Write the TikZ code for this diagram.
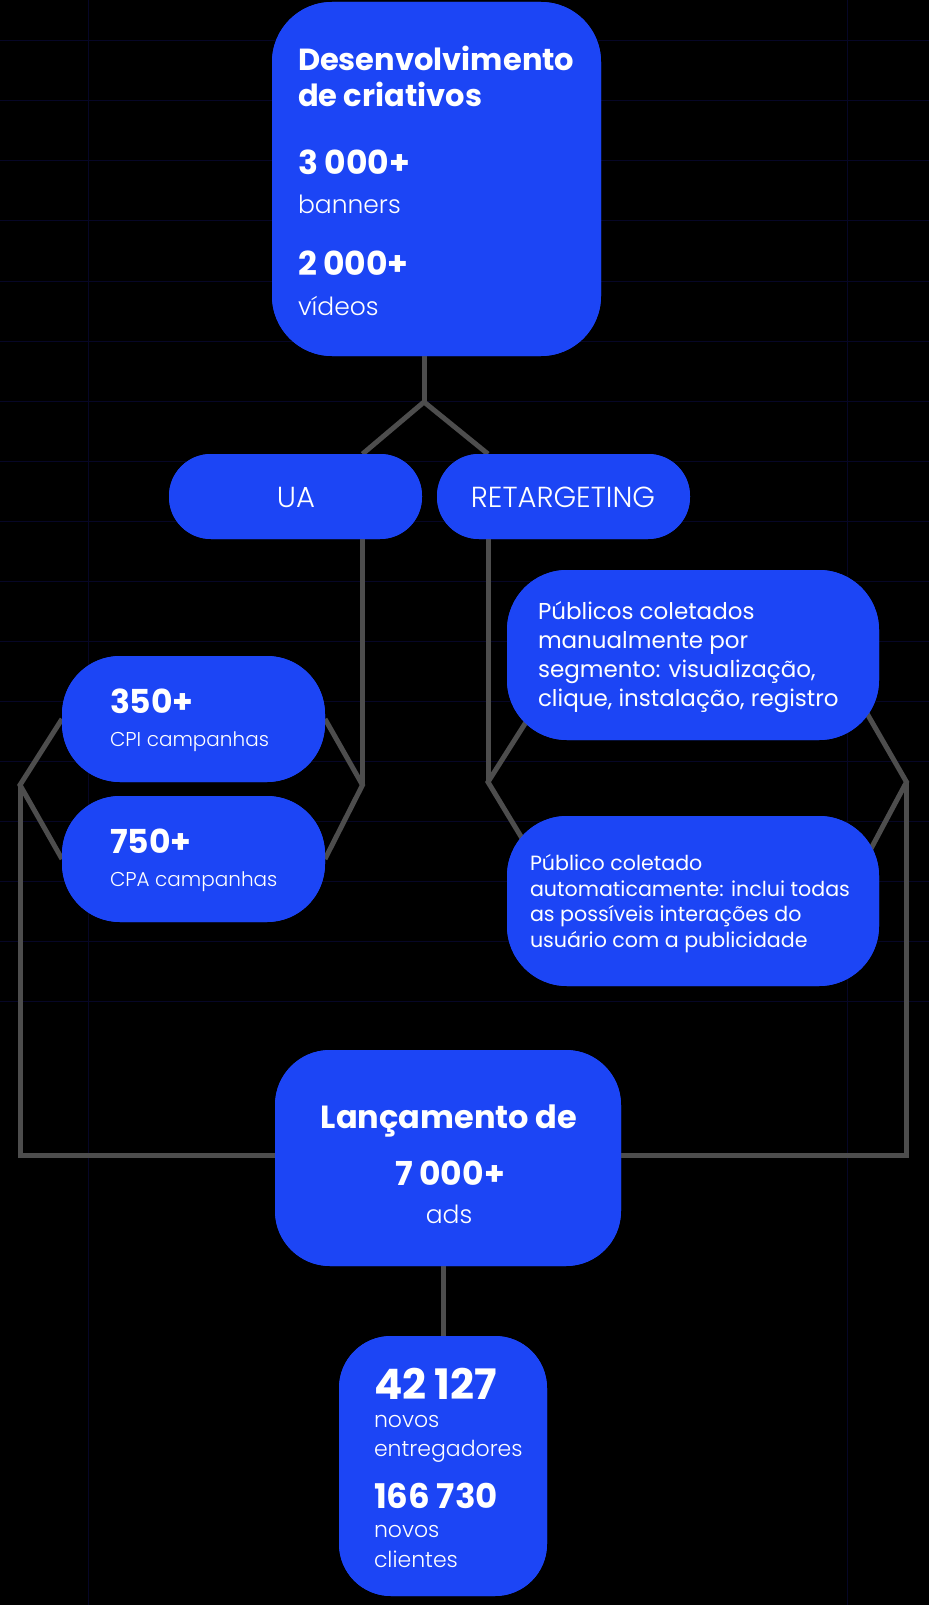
\documentclass[tikz,border=0pt]{standalone}
\usepackage{fontspec}
\setmainfont{Poppins}
\newfontfamily\pb{Poppins Bold}
\newfontfamily\pl{Poppins Light}
\newfontfamily\pr{Poppins}
\usetikzlibrary{calc}
\definecolor{gridc}{RGB}{6,6,38}
\definecolor{boxc}{RGB}{28,69,245}
\definecolor{linec}{RGB}{77,77,77}
\newcommand{\fs}[2]{\fontsize{#1pt}{#2pt}\selectfont}
\newcommand{\gp}{\hspace{0.2em}}
\begin{document}
\begin{tikzpicture}[x=1pt,y=-1pt,
  blk/.style={rectangle,fill=boxc,rounded corners=#1,inner sep=0pt,outer sep=0pt},
  conn/.style={draw=linec,line width=5pt},
  gridline/.style={draw=gridc,line width=1pt},
  tx/.style={anchor=base west,inner sep=0pt,outer sep=0pt,text=white},
  txc/.style={anchor=base,inner sep=0pt,outer sep=0pt,text=white},
  fbig/.style={font=\pb\fs{33}{33}},
  flight/.style={font=\pl\fs{25}{25}},
  fsmall/.style={font=\pl\fs{20}{20}},
  fretA/.style={font=\pr\fs{23}{23}},
  fretB/.style={font=\pr\fs{20.6}{20.6}}]
\fill[black] (0,0) rectangle (929,1605);
\useasboundingbox (0,0) rectangle (929,1605);
% grid
\foreach \k in {0,...,16} \draw[gridline] (0,41+60*\k) -- (929,41+60*\k);
\draw[gridline] (88,0) -- (88,1605);
\draw[gridline] (847,0) -- (847,1605);

% boxes (positions)
\path node[blk=60,minimum width=329,minimum height=354] (top) at (436.5,179) {};
\path node[blk=42,minimum width=253,minimum height=85] (ua) at (295.5,496.5) {};
\path node[blk=42,minimum width=253,minimum height=85] (ret) at (563.5,496.5) {};
\path node[blk=58,minimum width=263,minimum height=126] (b350) at (193.5,719) {};
\path node[blk=58,minimum width=263,minimum height=126] (b750) at (193.5,859) {};
\path node[blk=60,minimum width=372,minimum height=170] (rt1) at (693,655) {};
\path node[blk=60,minimum width=372,minimum height=170] (rt2) at (693,901) {};
\path node[blk=55,minimum width=346,minimum height=216] (lan) at (448,1158) {};
\path node[blk=52,minimum width=208,minimum height=260] (fin) at (443,1466) {};

% connector coordinates
\coordinate (j1) at (424,402);
\coordinate (uain) at (362.5,454);
\coordinate (retin) at (488,454);
\coordinate (uav) at (362.5,785);
\coordinate (lv) at (20,785);
\coordinate (retv) at (488,782);
\coordinate (rv) at (906.5,782);
\coordinate (h1) at (540,700);
\coordinate (h2) at (540,868);
\coordinate (h3) at (850,684);
\coordinate (h4) at (850,888);
\coordinate (lb) at (20,1155);
\coordinate (rb) at (906.5,1155);

\draw[conn] (j1 |- top.south) -- (j1);
\draw[conn] (uain) -- (j1) -- (retin);
\draw[conn] (uain |- ua.south) -- (uav);
\draw[conn] (retin |- ret.south) -- (retv);
\draw[conn] (b350.east) -- (uav) -- (b750.east);
\draw[conn] (b350.west) -- (lv) -- (b750.west);
\draw[conn] (h1) -- (retv) -- (h2);
\draw[conn] (h3) -- (rv) -- (h4);
\draw[conn] (lv) -- (lb) -- (rb) -- (rv);
\draw[conn] (lan.south -| fin.north) -- (fin.north);

% boxes on top of connectors
\foreach \n/\r in {top/60,ua/42,ret/42,b350/58,b750/58,rt1/60,rt2/60,lan/55,fin/52}
  \fill[boxc,rounded corners=\r] (\n.north west) rectangle (\n.south east);

% texts: top box
\node[tx,font=\pb\fs{30.5}{30.5}] (t1) at (298,71) {Desenvolvimento};
\node[tx,font=\pb\fs{30.5}{30.5}] (t2) at (298,107) {de criativos};
\node[tx,fbig] (t3) at (298,175) {3\gp000+};
\node[tx,flight] (t4) at (298,214) {banners};
\node[tx,fbig] (t5) at (298,275) {2\gp000+};
\node[tx,flight] (t6) at (298,315) {vídeos};

% UA / RETARGETING
\node[txc,font=\pl\fs{29}{29}] (uat) at (296,507) {UA};
\node[txc,font=\pl\fs{29}{29}] (rett) at (563,507) {RETARGETING};

% UA group
\node[tx,fbig] (n350) at (110,713) {350+};
\node[tx,fsmall] (c350) at (110,746) {CPI campanhas};
\node[tx,fbig] (n750) at (110,853) {750+};
\node[tx,fsmall] (c750) at (110,886) {CPA campanhas};

% retargeting group
\node[tx,fretA] (r1a) at (538,619) {Públicos coletados};
\node[tx,fretA] (r1b) at (538,648) {manualmente por};
\node[tx,fretA] (r1c) at (538,677) {segmento: visualização,};
\node[tx,fretA] (r1d) at (538,706) {clique, instalação, registro};
\node[tx,fretB] (r2a) at (530,870) {Público coletado};
\node[tx,fretB] (r2b) at (530,896) {automaticamente: inclui todas};
\node[tx,fretB] (r2c) at (530,921) {as possíveis interações do};
\node[tx,fretB] (r2d) at (530,947) {usuário com a publicidade};

% launch
\node[txc,font=\pb\fs{32}{32}] (l1) at (449,1128) {Lançamento de};
\node[txc,fbig] (l2) at (450,1185) {7\gp000+};
\node[txc,flight] (l3) at (449,1223) {ads};

% final
\node[tx,font=\pb\fs{42}{42}] (f1) at (374,1399) {42\gp127};
\node[tx,font=\pl\fs{22}{22}] (f2) at (374,1427) {novos};
\node[tx,font=\pl\fs{22}{22}] (f3) at (374,1456) {entregadores};
\node[tx,font=\pb\fs{34}{34}] (f4) at (374,1508) {166\gp730};
\node[tx,font=\pl\fs{22}{22}] (f5) at (374,1537) {novos};
\node[tx,font=\pl\fs{22}{22}] (f6) at (374,1567) {clientes};
\end{tikzpicture}
\end{document}
